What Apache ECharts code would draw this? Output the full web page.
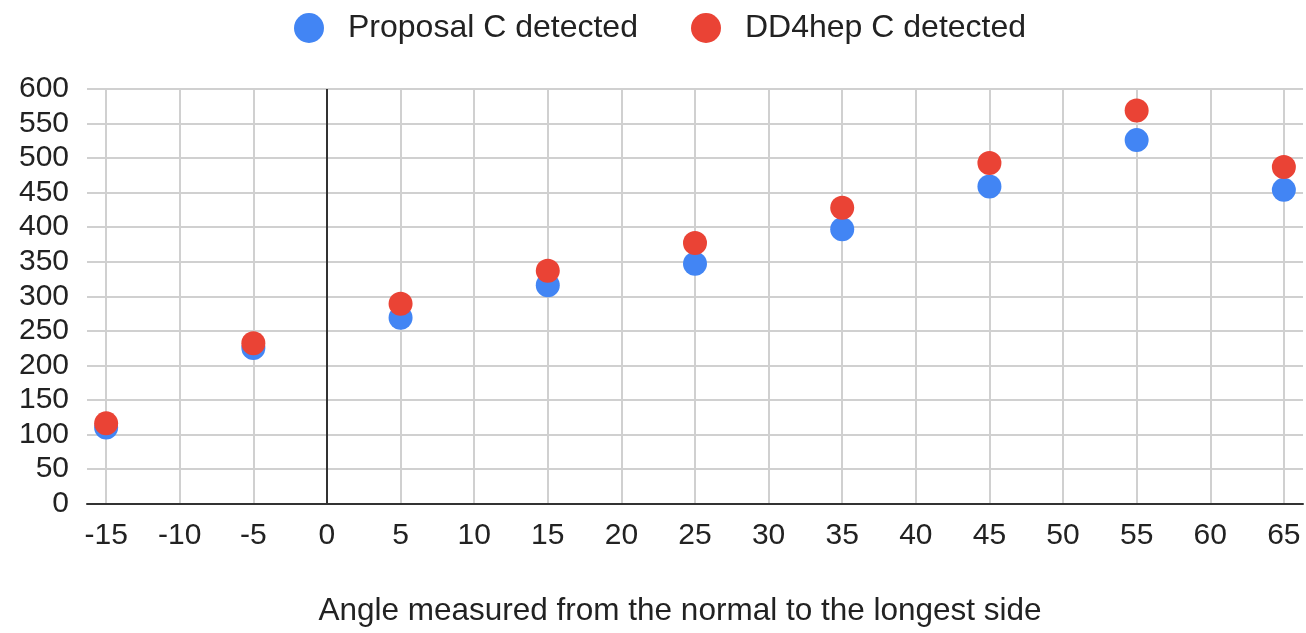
<!DOCTYPE html>
<html>
<head>
<meta charset="utf-8">
<script src="https://cdn.jsdelivr.net/npm/echarts@6/dist/echarts.min.js"></script>
<style>
html,body{margin:0;padding:0;background:#fff;}
#chart{width:1306px;height:633px;}
</style>
</head>
<body>
<div id="chart"></div>
<script>
const angles = [-15, -5, 5, 15, 25, 35, 45, 55, 65];
const proposalC = [110, 225, 269, 316, 347, 397, 459, 526, 454];
const dd4hepC = [116, 232, 289, 337, 377, 428, 493, 569, 487];
const xTicks = [-15, -10, -5, 0, 5, 10, 15, 20, 25, 30, 35, 40, 45, 50, 55, 60, 65];
const seriesNames = ['Proposal C detected', 'DD4hep C detected'];
const xTitle = 'Angle measured from the normal to the longest side';

const FONT = '"Liberation Sans", Arial, sans-serif';
const chart = echarts.init(document.getElementById('chart'), null, {renderer: 'canvas'});
const legendText = {fontSize: 32, color: '#222', fontFamily: FONT, padding: [3, 0, 0, 19]};
chart.setOption({
  animation: false,
  backgroundColor: '#fff',
  legend: [
    {data: [seriesNames[0]], left: 294, top: 12, padding: 0, icon: 'circle', itemWidth: 30, itemHeight: 30, textStyle: legendText},
    {data: [seriesNames[1]], left: 691, top: 12, padding: 0, icon: 'circle', itemWidth: 30, itemHeight: 30, textStyle: legendText}
  ],
  grid: {left: 87, right: 3, top: 89, bottom: 129.5},
  xAxis: {
    type: 'value', min: -16.3, max: 66.3,
    name: xTitle, nameLocation: 'middle', nameGap: 92,
    nameTextStyle: {fontSize: 31.5, color: '#222', fontFamily: FONT, padding: [0, 30, 0, 0]},
    axisLine: {show: true, onZero: true, lineStyle: {color: '#333', width: 2}},
    axisTick: {show: false, customValues: xTicks},
    axisLabel: {customValues: xTicks, fontSize: 30, color: '#222', fontFamily: FONT, margin: 17},
    splitLine: {show: true, lineStyle: {color: '#d0d0d0', width: 2}}
  },
  yAxis: {
    type: 'value', min: 0, max: 600, interval: 50,
    axisLine: {show: false},
    axisTick: {show: false},
    axisLabel: {fontSize: 30, color: '#222', fontFamily: FONT, margin: 18},
    splitLine: {show: true, lineStyle: {color: '#d0d0d0', width: 2}}
  },
  series: [
    {
      name: seriesNames[0], type: 'scatter', symbolSize: 24,
      itemStyle: {color: '#4285F4', opacity: 1},
      data: angles.map((a, i) => [a, proposalC[i]]),
      markLine: {
        silent: true, symbol: 'none', label: {show: false},
        lineStyle: {color: '#333', type: 'solid', width: 2},
        data: [{xAxis: 0}]
      },
      z: 3
    },
    {
      name: seriesNames[1], type: 'scatter', symbolSize: 24,
      itemStyle: {color: '#EA4335', opacity: 1},
      data: angles.map((a, i) => [a, dd4hepC[i]]),
      z: 4
    }
  ]
});
</script>
</body>
</html>
